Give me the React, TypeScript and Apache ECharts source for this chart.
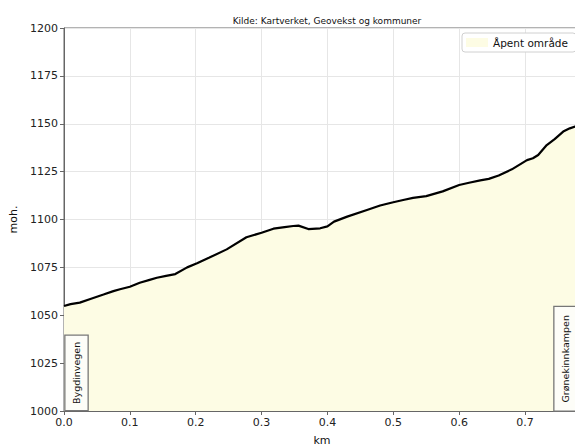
import React, { useEffect, useRef } from "react";
import * as echarts from "echarts";

const titleText = "Kilde: Kartverket, Geovekst og kommuner";
const seriesName = "Åpent område";
const startLabel = "Bygdinvegen";
const endLabel = "Grønekinnkampen";
const xName = "km";
const yName = "moh.";

const km = [0, 0.01, 0.024, 0.04, 0.06, 0.075, 0.085, 0.1, 0.115, 0.13, 0.141, 0.155, 0.169, 0.187, 0.202, 0.22, 0.247, 0.277, 0.3, 0.318, 0.335, 0.348, 0.356, 0.371, 0.389, 0.4, 0.41, 0.43, 0.46, 0.48, 0.5, 0.515, 0.53, 0.55, 0.575, 0.6, 0.615, 0.632, 0.645, 0.66, 0.68, 0.703, 0.712, 0.72, 0.733, 0.745, 0.758, 0.768, 0.776, 0.7835];
const elev = [1054.8, 1055.8, 1056.6, 1058.5, 1060.8, 1062.6, 1063.6, 1064.9, 1067, 1068.5, 1069.6, 1070.6, 1071.5, 1075, 1077.1, 1080, 1084.4, 1090.7, 1093.1, 1095.2, 1096, 1096.6, 1096.8, 1095, 1095.4, 1096.4, 1098.9, 1101.5, 1105, 1107.3, 1109, 1110.2, 1111.3, 1112.2, 1114.7, 1118, 1119.2, 1120.4, 1121.2, 1123, 1126.2, 1131, 1132, 1133.7, 1138.9, 1142, 1145.9, 1147.6, 1148.5, 1149.2];

const yMin = 1000;
const yMax = 1200;
const yStep = 25;
const xMin = 0;
const xMax = 0.7835;
const xStep = 0.1;

const FONT = "DejaVu Sans";
const FILL = "#FDFCE4";

export default function App() {
  const ref = useRef<HTMLDivElement>(null);
  useEffect(() => {
    if (!ref.current) return;
    const chart = echarts.init(ref.current, undefined, { renderer: "svg" });
    const data = km.map((x, i) => [x, elev[i]]);
    chart.setOption({
      animation: false,
      textStyle: { fontFamily: FONT },
      title: {
        text: titleText,
        left: 322,
        textAlign: "center",
        top: 11,
        textStyle: { fontSize: 9, fontWeight: "normal", color: "#111", fontFamily: FONT },
      },
      legend: {
        left: 462,
        top: 33,
        padding: [4, 8, 4, 4],
        backgroundColor: "#fff",
        borderColor: "#d0d0d0",
        borderWidth: 1,
        borderRadius: 3,
        itemWidth: 22,
        itemHeight: 9,
        itemGap: 6,
        textStyle: { fontSize: 10.5, color: "#111", fontFamily: FONT },
        data: [{ name: seriesName, icon: "rect", itemStyle: { color: FILL } }],
      },
      grid: {
        left: 64,
        right: 20,
        top: 28,
        bottom: 35,
        containLabel: false,
        outerBoundsMode: "none",
        show: true,
        borderColor: "#666",
        borderWidth: 1,
        backgroundColor: "transparent",
      },
      xAxis: {
        type: "value",
        min: xMin,
        max: xMax,
        interval: xStep,
        name: xName,
        nameLocation: "middle",
        nameGap: 24,
        nameTextStyle: { fontSize: 11, color: "#111", fontFamily: FONT },
        axisLine: { show: true, lineStyle: { color: "#666", width: 1 } },
        axisTick: { show: true, inside: false, length: 4, lineStyle: { color: "#666" } },
        axisLabel: {
          fontSize: 11,
          color: "#222",
          margin: 6,
          showMaxLabel: false,
          formatter: (v: number) => v.toFixed(1),
        },
        splitLine: { show: true, lineStyle: { color: "#e6e6e6", width: 1 } },
      },
      yAxis: {
        type: "value",
        min: yMin,
        max: yMax,
        interval: yStep,
        name: yName,
        nameLocation: "middle",
        nameGap: 42,
        nameTextStyle: { fontSize: 11, color: "#111", fontFamily: FONT },
        axisLine: { show: true, lineStyle: { color: "#666", width: 1 } },
        axisTick: { show: true, inside: false, length: 4, lineStyle: { color: "#666" } },
        axisLabel: { fontSize: 11, color: "#222", margin: 6, formatter: (v: number) => String(v) },
        splitLine: { show: true, lineStyle: { color: "#e6e6e6", width: 1 } },
      },
      series: [
        {
          name: seriesName,
          type: "line",
          data,
          showSymbol: false,
          color: FILL,
          lineStyle: { width: 0, opacity: 0 },
          areaStyle: { color: FILL, opacity: 1, origin: "start" },
          z: 1,
        },
        {
          name: "profil",
          type: "line",
          data,
          showSymbol: false,
          color: "#000",
          lineStyle: { width: 2.2, color: "#000" },
          z: 3,
        },
      ],
    });

    const p0 = chart.convertToPixel({ xAxisIndex: 0, yAxisIndex: 0 }, [km[0], yMin]) as number[];
    const p1 = chart.convertToPixel({ xAxisIndex: 0, yAxisIndex: 0 }, [km[km.length - 1], yMin]) as number[];
    const boxStyle = {
      fontSize: 9.5,
      fontFamily: FONT,
      fill: "#111",
      align: "left",
      verticalAlign: "middle",
      backgroundColor: "#fdfdf8",
      borderColor: "#777",
      borderWidth: 1.3,
      padding: [6, 5, 6, 5],
    };
    chart.setOption({
      graphic: [
        {
          type: "text",
          x: p0[0] + 12.5,
          y: p0[1] - 1,
          rotation: Math.PI / 2,
          z: 10,
          style: { ...boxStyle, text: startLabel, padding: [6, 6, 6, 6] },
        },
        {
          type: "text",
          x: p1[0] - 14.5,
          y: p1[1] - 0.5,
          rotation: Math.PI / 2,
          z: 10,
          style: { ...boxStyle, text: endLabel, padding: [6, 8, 6, 8] },
        },
      ],
    });
    return () => chart.dispose();
  }, []);
  return (
    <div style={{ position: "fixed", left: 0, top: 0, width: 575, height: 446, overflow: "hidden", background: "#fff" }}>
      <div ref={ref} style={{ width: 600, height: 446 }} />
    </div>
  );
}
